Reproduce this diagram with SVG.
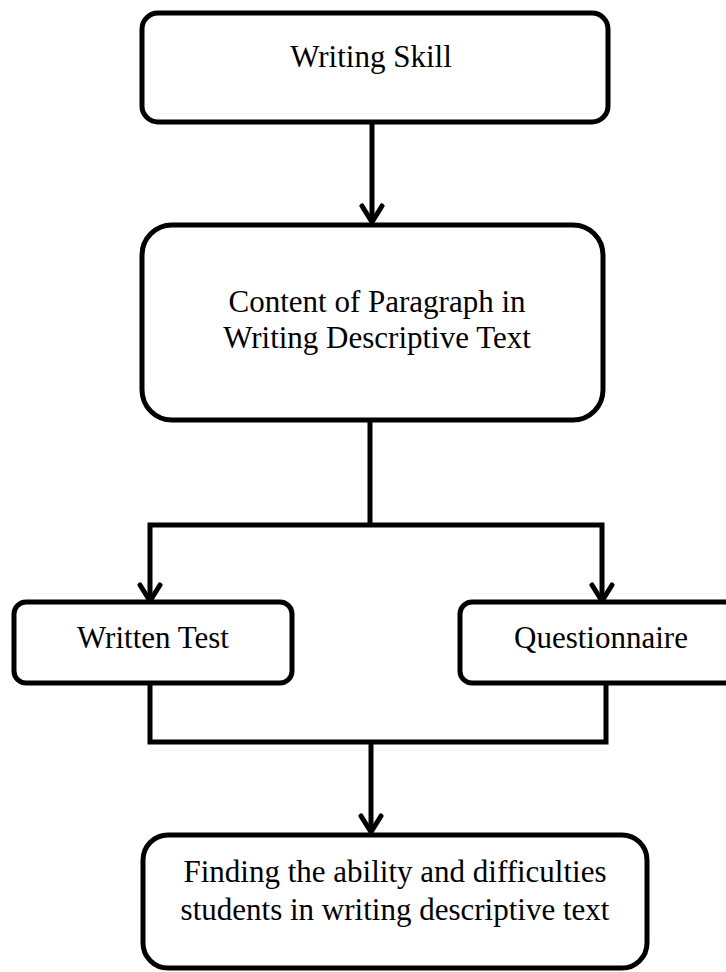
<svg xmlns="http://www.w3.org/2000/svg" width="726" height="972" viewBox="0 0 726 972">
<defs>
<style>
.box{fill:#fff;stroke:#000;stroke-width:5}
.ln{fill:none;stroke:#000;stroke-width:5}
.ah{fill:none;stroke:#000;stroke-width:5;stroke-linecap:round;stroke-linejoin:miter}
text{font-family:"Liberation Serif","Times New Roman",serif;font-size:31px;fill:#000;text-anchor:middle}
</style>
</defs>
<rect width="726" height="972" fill="#fff"/>
<g id="connectors">
<line class="ln" x1="372" y1="122" x2="372" y2="221"/>
<polyline class="ah" points="362,206 372,222 382,206"/>
<polyline class="ln" points="370,420 370,525"/>
<polyline class="ln" points="150,601 150,525 602,525 602,601"/>
<polyline class="ah" points="140,585 150,601 160,585"/>
<polyline class="ah" points="592,585 602,601 612,585"/>
<polyline class="ln" points="150,683 150,742 606,742 606,683"/>
<line class="ln" x1="371" y1="742" x2="371" y2="832"/>
<polyline class="ah" points="361,816 371,832 381,816"/>
</g>
<g id="n1">
<rect class="box" x="142" y="13" width="466" height="109" rx="16"/>
<text x="371" y="67">Writing Skill</text>
</g>
<g id="n2">
<rect class="box" x="142" y="225" width="461" height="195" rx="30"/>
<text x="377" y="312">Content of Paragraph in</text>
<text x="377" y="348">Writing Descriptive Text</text>
</g>
<g id="n3">
<rect class="box" x="14" y="602" width="278" height="81" rx="12"/>
<text x="153" y="648">Written Test</text>
</g>
<g id="n4">
<rect class="box" x="460" y="602" width="290" height="81" rx="12"/>
<text x="601" y="648">Questionnaire</text>
</g>
<g id="n5">
<rect class="box" x="143" y="835" width="504" height="133" rx="25"/>
<text x="395" y="882">Finding the ability and difficulties</text>
<text x="395" y="920">students in writing descriptive text</text>
</g>
</svg>
